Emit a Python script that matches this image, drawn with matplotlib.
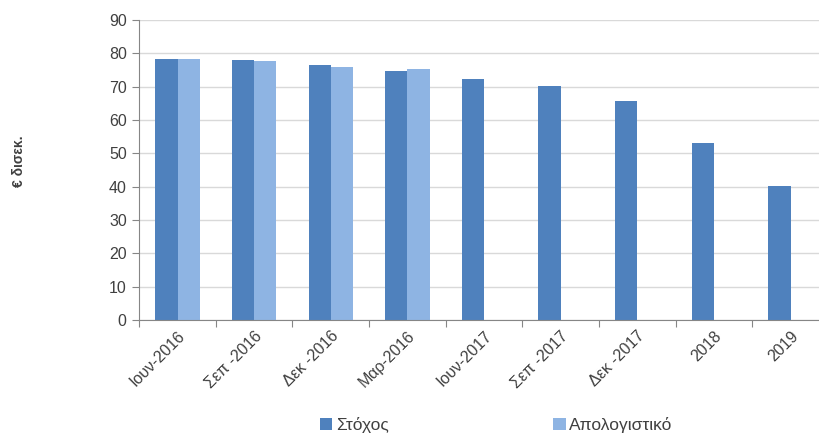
import matplotlib.pyplot as plt
import numpy as np

plt.rcParams['font.family'] = ['Liberation Sans', 'DejaVu Sans']

categories = ['Ιουν-2016', 'Σεπ -2016', 'Δεκ -2016', 'Μαρ-2016', 'Ιουν-2017',
              'Σεπ -2017', 'Δεκ -2017', '2018', '2019']
stoxos = [78.3, 78.1, 76.4, 74.6, 72.2, 70.3, 65.6, 53.0, 40.1]
apologistiko = [78.3, 77.6, 75.8, 75.2, None, None, None, None, None]
ylabel = '€ δισεκ.'

dark = '#4F81BD'
light = '#8EB4E3'
txt = '#404040'

fig = plt.figure(figsize=(8.19, 4.37), dpi=100)
ax = fig.add_axes([0.17, 0.268, 0.842, 0.686])

x = np.arange(len(categories))
w = 0.29
ax.bar(x - w / 2, stoxos, width=w, color=dark, label='Στόχος', zorder=2)
act_x = [xi + w / 2 for xi, v in zip(x, apologistiko) if v is not None]
act_v = [v for v in apologistiko if v is not None]
ax.bar(act_x, act_v, width=w, color=light, label='Απολογιστικό', zorder=2)

ax.set_ylim(0, 90)
ax.set_yticks(range(0, 91, 10))
ax.set_xlim(-0.5, 8.5)
ax.yaxis.grid(True, color='#D9D9D9', linewidth=1, zorder=0)
ax.set_axisbelow(True)

for s in ['top', 'right']:
    ax.spines[s].set_visible(False)
for s in ['left', 'bottom']:
    ax.spines[s].set_color('#868686')

# ticks at category borders, labels at centers
ax.set_xticks(np.arange(-0.5, 9, 1))
ax.set_xticklabels([])
ax.set_xticks(x, minor=True)
ax.set_xticklabels(categories, minor=True, rotation=45, ha='right',
                   rotation_mode='anchor', fontsize=11.5, color=txt)
ax.tick_params(axis='x', which='minor', length=0, pad=6)
ax.tick_params(axis='x', which='major', length=5, color='#868686')
ax.tick_params(axis='y', length=5, color='#868686', labelsize=11.5,
               labelcolor=txt, pad=4)

fig.text(0.023, 0.632, ylabel, rotation=90, fontsize=10, fontweight='bold',
         color=txt, ha='center', va='center')

fig.legend(loc='center', bbox_to_anchor=(0.606, 0.027), ncol=2, frameon=False,
           fontsize=12.5, columnspacing=9.5, handlelength=0.7, handleheight=0.7,
           handletextpad=0.2, labelcolor=txt)

fig.savefig('out.png', dpi=100)
